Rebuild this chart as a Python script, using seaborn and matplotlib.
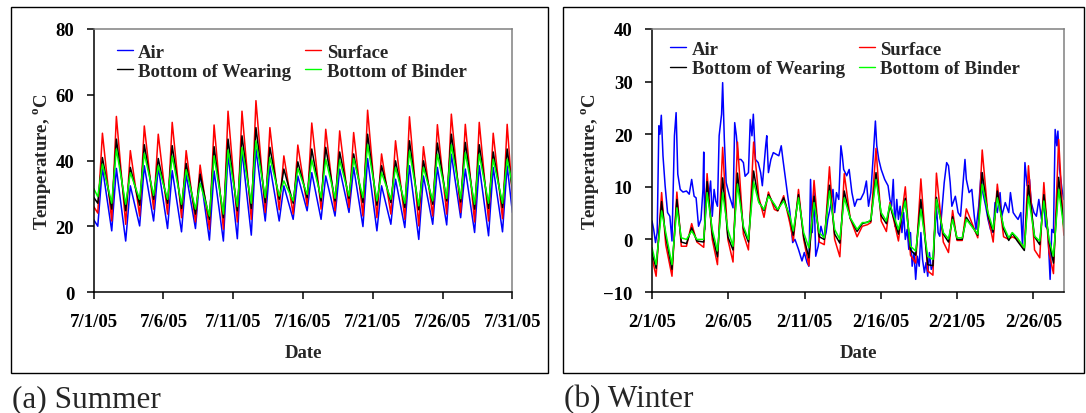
import matplotlib
matplotlib.use("Agg")
import matplotlib.pyplot as plt
import matplotlib.dates as mdates
from matplotlib.patches import Rectangle
from matplotlib.ticker import FuncFormatter
import pandas as pd
import seaborn as sns

# ---------------------------------------------------------------- series
SERIES = ["Air", "Surface", "Bottom of Wearing", "Bottom of Binder"]
LEGEND_ORDER = ["Air", "Bottom of Wearing", "Surface", "Bottom of Binder"]
COLORS = {"Air": "#0000FF", "Surface": "#FF0000",
          "Bottom of Wearing": "#000000", "Bottom of Binder": "#00FF00"}

# ---------------------------------------------------------------- summer (July 2005)
SUMMER_START = "2005-07-01"
SUMMER_DAYS = 30
MIN_HOUR = 7      # typical time of the daily low
MAX_HOUR = 15     # typical time of the daily high

summer_first = {"Air": 22.0, "Surface": 26.0, "Bottom of Wearing": 28.8, "Bottom of Binder": 31.5}
summer_last = {"Air": 24.2, "Surface": 29.0, "Bottom of Wearing": 31.0, "Bottom of Binder": 32.8}

air_max = [37.9, 37.6, 32.3, 38.4, 38.0, 36.9, 35.8, 36.3, 36.8, 41.9,
           43.0, 43.5, 38.4, 32.3, 35.3, 36.3, 35.3, 37.4, 37.9, 40.6,
           32.3, 34.3, 38.4, 35.3, 37.9, 41.9, 37.4, 38.4, 37.9, 38.4]
air_min = [20.0, 18.6, 15.5, 20.1, 21.6, 19.3, 18.3, 19.3, 15.8, 15.5,
           16.2, 17.3, 21.6, 21.6, 22.1, 24.7, 22.1, 23.1, 24.2, 19.9,
           18.6, 20.6, 19.6, 16.0, 20.6, 20.4, 22.6, 18.1, 17.1, 18.3]
surface_max = [48.3, 53.4, 43.0, 50.5, 48.0, 51.6, 43.0, 38.6, 50.8, 55.0,
               55.0, 58.2, 50.0, 41.4, 44.7, 51.4, 49.5, 49.0, 48.5, 55.3,
               42.0, 46.0, 53.3, 44.2, 50.9, 54.1, 51.0, 51.6, 48.3, 51.0]
surface_min = [24.0, 21.6, 20.6, 23.1, 25.2, 23.7, 22.6, 21.3, 19.1, 19.1,
               21.3, 22.1, 24.2, 25.0, 23.7, 26.2, 25.2, 24.7, 25.7, 23.1,
               22.6, 23.7, 22.1, 20.1, 23.1, 23.7, 24.2, 21.3, 21.6, 22.3]
wearing_max = [40.9, 46.5, 37.9, 44.8, 40.6, 44.5, 39.1, 35.8, 44.2, 46.5,
               47.5, 50.0, 44.0, 37.4, 39.6, 43.5, 44.0, 42.6, 42.0, 48.0,
               38.4, 39.9, 46.0, 39.9, 45.3, 48.0, 45.5, 44.8, 42.6, 43.5]
wearing_min = [27.0, 25.2, 24.7, 26.4, 28.2, 27.0, 25.4, 23.7, 22.1, 22.6,
               24.7, 25.4, 27.2, 28.2, 27.0, 28.7, 27.7, 27.7, 28.5, 27.2,
               26.4, 27.2, 25.7, 25.0, 26.7, 27.7, 27.4, 25.2, 25.4, 25.7]
binder_max = [38.9, 43.5, 36.3, 42.2, 38.4, 41.4, 37.2, 33.1, 41.4, 43.2,
              44.0, 46.0, 40.9, 33.8, 37.6, 40.2, 40.4, 40.1, 40.6, 44.8,
              36.3, 37.9, 42.9, 37.9, 41.9, 44.8, 42.4, 41.9, 40.4, 40.4]
binder_min = [29.0, 27.0, 26.7, 28.2, 29.4, 28.2, 26.7, 25.2, 23.1, 23.7,
              26.0, 27.0, 28.7, 29.2, 27.7, 29.7, 28.7, 28.5, 29.2, 28.7,
              27.7, 28.2, 27.0, 26.2, 27.7, 28.5, 28.4, 26.7, 27.0, 27.0]

summer_extremes = {"Air": (air_min, air_max),
                   "Surface": (surface_min, surface_max),
                   "Bottom of Wearing": (wearing_min, wearing_max),
                   "Bottom of Binder": (binder_min, binder_max)}

# ---------------------------------------------------------------- winter (February 2005)
WINTER_START = "2005-02-01"
WINTER_DAYS = 27

# pavement sensors share one set of reading times (days after 2/1 00:00)
pave_t = [0.00, 0.27, 0.63, 0.90, 1.31, 1.63, 1.92, 2.26, 2.60, 2.94,
          3.39, 3.61, 3.95, 4.29, 4.63, 4.97, 5.31, 5.60, 5.99, 6.32,
          6.66, 7.00, 7.34, 7.63, 8.02, 8.24, 8.63, 9.04, 9.26, 9.60,
          9.94, 10.28, 10.62, 10.96, 11.29, 11.63, 11.97, 12.31, 12.60, 12.99,
          13.44, 13.78, 14.12, 14.34, 14.68, 15.02, 15.36, 15.59, 16.15, 16.60,
          16.94, 17.28, 17.62, 18.07, 18.41, 18.64, 19.09, 19.43, 19.70, 19.99,
          20.33, 20.60, 21.35, 21.64, 22.02, 22.36, 22.63, 23.04, 23.38, 23.61,
          23.94, 24.40, 24.67, 25.07, 25.41, 25.68, 26.02, 26.31, 26.65, 26.99]
w_binder = [-1.6, -4.8, 5.4, 1.3, -4.8, 6.0, 0.3, 0.0, 1.6, 0.0,
            0.0, 8.9, 1.9, -2.2, 8.9, 1.9, -1.3, 10.5, 2.5, 0.0,
            10.9, 7.0, 5.7, 8.2, 6.7, 5.7, 7.3, 4.4, 1.6, 7.9,
            1.3, -1.6, 7.0, 1.3, 0.3, 9.2, 1.9, 0.0, 7.9, 4.1,
            1.9, 3.2, 3.2, 3.8, 11.4, 5.1, 3.5, 6.7, 1.9, 7.3,
            -1.3, -2.2, 5.7, -3.2, -3.8, 7.6, 1.3, 0.1, 3.8, 0.3,
            0.3, 3.8, 1.0, 10.5, 5.1, 1.9, 7.9, 2.5, 0.3, 1.3,
            0.3, -1.6, 8.2, 0.6, -0.3, 7.3, 0.0, -3.2, 9.5, 2.2]
w_wearing = [-2.5, -5.5, 7.2, 0.5, -5.7, 7.6, -0.5, -0.8, 2.2, -0.3,
             -0.5, 11.0, 1.0, -3.3, 11.7, 0.5, -2.0, 12.6, 2.0, -0.5,
             13.0, 7.2, 5.5, 8.5, 6.5, 5.5, 7.9, 4.0, 0.8, 8.5,
             0.5, -3.5, 8.2, 0.5, 0.0, 10.3, 1.0, -0.7, 9.2, 4.0,
             1.5, 3.0, 3.3, 3.5, 12.7, 4.5, 3.0, 6.5, 1.0, 7.8,
             -2.0, -3.0, 7.6, -4.8, -5.0, 8.0, 1.0, -0.5, 4.3, 0.0,
             0.0, 4.2, 0.8, 12.7, 4.5, 1.4, 9.2, 2.0, -0.2, 1.2,
             -0.3, -2.1, 10.3, 0.5, -1.0, 8.5, -0.5, -4.5, 11.8, 2.5]
w_surface = [-3.5, -7.0, 8.9, -1.0, -7.0, 9.0, -1.3, -1.3, 3.0, -0.5,
             -1.5, 12.5, 0.0, -4.8, 17.5, 0.0, -4.3, 18.5, 1.0, -2.0,
             18.5, 8.0, 4.2, 9.0, 5.7, 5.4, 8.3, 3.0, -0.3, 9.5,
             0.0, -5.0, 11.2, -0.5, -1.0, 13.8, 0.0, -3.3, 12.5, 4.0,
             0.5, 2.5, 2.8, 3.2, 17.3, 3.5, 1.5, 7.0, -0.3, 10.0,
             -3.0, -4.5, 11.5, -6.0, -6.8, 12.6, -0.5, -2.5, 5.5, -0.2,
             -0.2, 5.8, 0.3, 17.0, 4.5, -0.5, 10.5, 0.5, 0.0, 0.5,
             0.0, -1.7, 14.0, -2.0, -3.5, 10.8, -2.5, -6.5, 19.0, 0.8]

# air sensor readings (days after 2/1 00:00, deg C)
air_t = [0.00, 0.11, 0.23, 0.34, 0.45, 0.52, 0.61, 0.72, 0.86, 1.02,
         1.17, 1.31, 1.47, 1.58, 1.69, 1.85, 2.03, 2.26, 2.44, 2.60,
         2.76, 2.89, 3.05, 3.21, 3.34, 3.39, 3.46, 3.61, 3.73, 3.84,
         3.95, 4.07, 4.18, 4.29, 4.40, 4.56, 4.63, 4.74, 4.86, 5.08,
         5.31, 5.42, 5.53, 5.65, 5.83, 5.99, 6.10, 6.32, 6.44, 6.55,
         6.64, 6.78, 6.96, 7.12, 7.23, 7.45, 7.52, 7.63, 7.79, 7.95,
         8.13, 8.31, 8.47, 8.58, 8.81, 9.04, 9.22, 9.37, 9.60, 9.83,
         9.98, 10.16, 10.28, 10.39, 10.50, 10.62, 10.73, 10.89, 11.07, 11.29,
         11.41, 11.52, 11.70, 11.86, 11.97, 12.09, 12.24, 12.38, 12.47, 12.56,
         12.76, 12.92, 13.10, 13.28, 13.44, 13.67, 13.89, 14.05, 14.19, 14.34,
         14.50, 14.64, 14.73, 14.86, 15.02, 15.25, 15.47, 15.59, 15.70, 15.81,
         15.92, 16.04, 16.15, 16.26, 16.38, 16.49, 16.60, 16.72, 16.83, 16.94,
         17.05, 17.17, 17.28, 17.39, 17.51, 17.62, 17.73, 17.85, 17.96, 18.07,
         18.18, 18.30, 18.41, 18.52, 18.64, 18.75, 18.86, 18.97, 19.15, 19.31,
         19.43, 19.54, 19.65, 19.88, 20.06, 20.22, 20.37, 20.51, 20.60, 20.78,
         20.96, 21.12, 21.23, 21.41, 21.57, 21.68, 21.87, 22.02, 22.18, 22.36,
         22.48, 22.63, 22.81, 22.92, 23.15, 23.38, 23.49, 23.67, 23.83, 23.99,
         24.17, 24.28, 24.44, 24.58, 24.74, 24.85, 25.03, 25.19, 25.35, 25.53,
         25.68, 25.79, 25.93, 26.02, 26.09, 26.20, 26.31, 26.42, 26.53, 26.60,
         26.71, 26.87, 26.99]
air_v = [3.5, 1.9, -0.6, 1.3, 21.6, 20.0, 23.6, 15.9, 10.2, 5.1,
         4.4, -0.3, 19.7, 24.1, 12.4, 9.5, 9.0, 9.2, 8.6, 11.4,
         8.2, 7.9, 2.5, 3.8, 9.5, 16.6, 1.9, 11.4, 8.2, 11.1,
         4.4, 9.5, 7.3, 6.3, 19.7, 23.8, 29.8, 19.0, 10.8, 8.2,
         6.0, 22.2, 19.7, 15.2, 15.2, 14.6, 12.0, 12.7, 22.8, 19.7,
         23.8, 15.2, 14.6, 12.7, 10.2, 17.8, 19.7, 12.7, 15.2, 16.5,
         16.2, 15.9, 17.8, 15.2, 10.2, 5.1, -0.6, 0.0, -1.9, -4.1,
         -2.5, -4.4, -5.1, 11.4, 1.3, 8.9, -3.2, -1.3, 2.5, 0.0,
         1.3, 3.8, 6.3, 9.5, 5.1, 8.9, 7.6, 17.8, 15.9, 13.3,
         12.1, 13.3, 8.9, 6.3, 7.6, 7.6, 8.9, 11.1, 6.3, 8.9,
         15.9, 22.5, 17.8, 15.2, 13.3, 11.4, 10.2, 7.6, 6.3, 11.4,
         2.5, 7.6, 3.8, 6.3, 1.3, 5.1, 0.0, 1.9, -1.9, 1.3,
         -5.1, -2.5, -7.6, -3.2, -5.1, 1.3, -3.8, -6.3, -4.4, -7.0,
         -2.5, -5.7, -5.1, 1.3, 6.3, 1.3, 0.6, 4.4, 10.8, 14.6,
         14.0, 10.8, 6.3, 8.2, 5.1, 4.4, 10.2, 15.2, 11.4, 8.9,
         9.5, 4.4, 1.9, 6.3, 12.7, 8.9, 6.3, 3.8, 1.9, 1.3,
         7.0, 5.1, 8.9, 4.4, 7.0, 5.1, 8.9, 5.1, 4.4, 3.8,
         5.1, -1.3, 14.6, 10.2, 11.4, 7.0, 5.1, 4.4, 7.6, 3.8,
         7.6, 2.5, 1.9, -3.2, -7.6, 1.9, 1.3, 20.9, 17.8, 20.6,
         13.3, 9.5, 7.6]


# ---------------------------------------------------------------- tables
def summer_frame():
    rows = []
    start = pd.Timestamp(SUMMER_START)
    for name in SERIES:
        lows, highs = summer_extremes[name]
        days = [0.0]
        temps = [summer_first[name]]
        for d, (lo, hi) in enumerate(zip(lows, highs)):
            days += [d + MIN_HOUR / 24, d + MAX_HOUR / 24]
            temps += [lo, hi]
        days.append(float(SUMMER_DAYS))
        temps.append(summer_last[name])
        for d, v in zip(days, temps):
            rows.append((start + pd.Timedelta(days=d), v, name))
    return pd.DataFrame(rows, columns=["time", "temp", "series"])


def winter_frame():
    start = pd.Timestamp(WINTER_START)
    rows = [(start + pd.Timedelta(days=d), v, "Air") for d, v in zip(air_t, air_v)]
    for name, vals in (("Surface", w_surface), ("Bottom of Wearing", w_wearing),
                       ("Bottom of Binder", w_binder)):
        rows += [(start + pd.Timedelta(days=d), v, name) for d, v in zip(pave_t, vals)]
    return pd.DataFrame(rows, columns=["time", "temp", "series"])


# ---------------------------------------------------------------- style
sns.set_theme(style="ticks")
plt.rcParams.update({
    "font.family": ["Liberation Serif", "DejaVu Serif"],
    "font.weight": "bold",
    "axes.labelweight": "bold",
    "mathtext.fontset": "custom",
    "mathtext.rm": "Liberation Serif",
    "mathtext.bf": "Liberation Serif:bold",
    "axes.linewidth": 1.1,
})

FS = 13.5
W, H = 1086, 414
fig = plt.figure(figsize=(W / 100, H / 100), dpi=100)


def px_rect(x0, y0, x1, y1):
    return [x0 / W, 1 - y1 / H, (x1 - x0) / W, (y1 - y0) / H]


date_fmt = FuncFormatter(
    lambda v, pos: "{0.month}/{0.day}/{0:%y}".format(mdates.num2date(v)))


def draw_panel(rect, frame, start, ndays, ylim, ystep, leg_anchor):
    ax = fig.add_axes(rect)
    sns.lineplot(data=frame, x="time", y="temp", hue="series",
                 hue_order=SERIES, palette=COLORS, estimator=None,
                 sort=False, linewidth=1.1, ax=ax)
    t0 = pd.Timestamp(start)
    ax.set_xlim(t0, t0 + pd.Timedelta(days=ndays))
    ax.set_ylim(*ylim)
    ax.set_yticks(range(ylim[0], ylim[1] + 1, ystep))
    ax.xaxis.set_major_locator(mdates.DayLocator(bymonthday=[1, 6, 11, 16, 21, 26, 31]))
    ax.xaxis.set_major_formatter(date_fmt)
    ax.tick_params(direction="out", length=5, width=1.1, labelsize=FS, colors="black")
    ax.tick_params(axis="y", pad=9)
    ax.tick_params(axis="x", pad=10)
    for lab in ax.get_xticklabels() + ax.get_yticklabels():
        lab.set_fontweight("bold")
    for side in ("top", "right"):
        ax.spines[side].set_color("#808080")
    for side in ("left", "bottom"):
        ax.spines[side].set_color("black")
    ax.set_xlabel("Date", fontsize=FS, fontweight="bold", labelpad=10.5)
    ax.set_ylabel(r"Temperature, $^{\mathbf{o}}$C", fontsize=FS, fontweight="bold", labelpad=1.5)

    handles, labels = ax.get_legend_handles_labels()
    lookup = dict(zip(labels, handles))
    leg = ax.legend([lookup[n] for n in LEGEND_ORDER], LEGEND_ORDER, ncol=2,
                    loc="upper left", bbox_to_anchor=leg_anchor, frameon=False,
                    handlelength=0.85, handletextpad=0.3, columnspacing=0.75,
                    labelspacing=0.12, borderaxespad=0, borderpad=0,
                    prop={"weight": "bold", "size": FS, "family": "Liberation Serif"})
    for line in leg.get_lines():
        line.set_linewidth(1.0)
    return ax


draw_panel(px_rect(93.7, 30, 512.4, 293), summer_frame(), SUMMER_START, SUMMER_DAYS,
           (0, 80), 20, (0.055, 0.945))
draw_panel(px_rect(652, 30, 1064, 293), winter_frame(), WINTER_START, WINTER_DAYS,
           (-10, 40), 10, (0.044, 0.955))

# panel frames and captions
for x0, x1 in ((11.4, 548), (563, 1084)):
    fig.patches.append(Rectangle((x0 / W, 1 - 374 / H), (x1 - x0) / W, (374 - 8.3) / H,
                                 transform=fig.transFigure, fill=False,
                                 edgecolor="black", linewidth=1.0))
fig.text(12 / W, 1 - 407 / H, "(a) Summer", fontsize=22.5, fontweight="normal",
         va="baseline", ha="left")
fig.text(564 / W, 1 - 407 / H, "(b) Winter", fontsize=22.5, fontweight="normal",
         va="baseline", ha="left")

fig.savefig("out.png", dpi=100)
